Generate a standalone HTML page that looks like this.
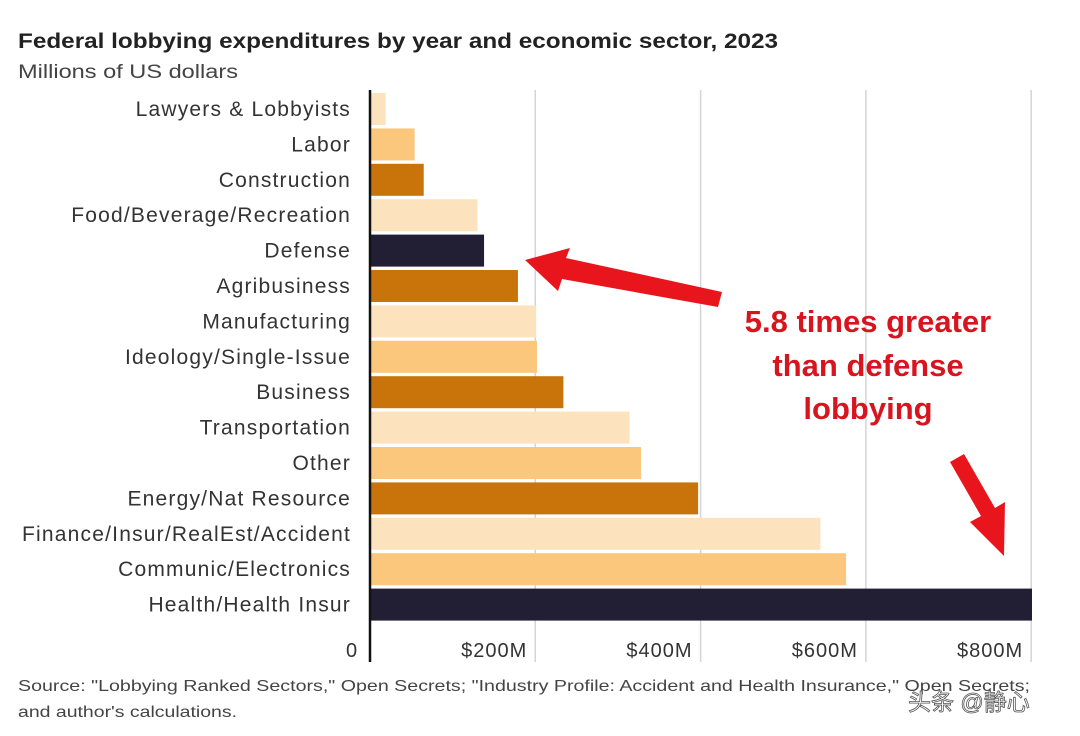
<!DOCTYPE html>
<html><head><meta charset="utf-8"><style>
body{margin:0;background:#fff;width:1080px;height:736px;overflow:hidden;font-family:"Liberation Sans","Noto Sans CJK SC",sans-serif}
</style></head><body>
<svg width="1080" height="736" style="position:absolute;left:0;top:0">
<text x="18" y="48" font-size="21" font-weight="bold" fill="#222" textLength="760" lengthAdjust="spacingAndGlyphs">Federal lobbying expenditures by year and economic sector, 2023</text>
<text x="18" y="78" font-size="19" fill="#444" textLength="220" lengthAdjust="spacingAndGlyphs">Millions of US dollars</text>
<g id="grid"></g>
<g id="bars"></g>
<g id="labels"></g>
<line x1="370" y1="90" x2="370" y2="662" stroke="#111" stroke-width="2.5"/>
<g id="ticks"></g>
<g font-size="31" font-weight="bold" fill="#d8141e" text-anchor="middle">
<text x="868" y="332">5.8 times greater</text>
<text x="868" y="376">than defense</text>
<text x="868" y="419">lobbying</text>
</g>
<polygon points="722,292 566,258 570,248 525,260 558,291 562,279 718,307" fill="#e8161c"/>
<polygon points="950,462 964,454 995,508 1005,502 1004,556 970,522 981,516" fill="#e8161c"/>
<text x="18" y="691" font-size="16" fill="#444" textLength="1012" lengthAdjust="spacingAndGlyphs">Source: "Lobbying Ranked Sectors," Open Secrets; "Industry Profile: Accident and Health Insurance," Open Secrets;</text>
<text x="18" y="717" font-size="16" fill="#444" textLength="219" lengthAdjust="spacingAndGlyphs">and author's calculations.</text>
<text x="908" y="710" font-size="23" fill="#fff" stroke="#555" stroke-width="0.8">头条 @静心</text>
</svg>
<script>
const categories=["Lawyers & Lobbyists","Labor","Construction","Food/Beverage/Recreation","Defense","Agribusiness","Manufacturing","Ideology/Single-Issue","Business","Transportation","Other","Energy/Nat Resource","Finance/Insur/RealEst/Accident","Communic/Electronics","Health/Health Insur"];
const values=[19,54,65,130,138,179,201,202,234,314,328,397,545,576,801];
const colorGroups=["light","mid","dark","light","navy","dark","light","mid","dark","light","mid","dark","light","mid","navy"];
const tickValues=[0,200,400,600,800];
const tickLabels=["0","$200M","$400M","$600M","$800M"];
const palette={light:"#fce2bd",mid:"#fbc77c",dark:"#c8740b",navy:"#221f35"};
const x=v=>370+v*(662/801);
const y=i=>93+i*35.4;
const NS="http://www.w3.org/2000/svg";
const g=document.getElementById('grid'),b=document.getElementById('bars'),l=document.getElementById('labels'),t=document.getElementById('ticks');
tickValues.forEach((v,i)=>{
 if(v>0){const ln=document.createElementNS(NS,'line');
 ln.setAttribute('x1',x(v));ln.setAttribute('x2',x(v));ln.setAttribute('y1',90);ln.setAttribute('y2',662);
 ln.setAttribute('stroke','#d4d4d8');ln.setAttribute('stroke-width','1.5');
 
 
 g.appendChild(ln);}
 const tx=document.createElementNS(NS,'text');
 tx.setAttribute('x',v===0?352:x(v)-8);tx.setAttribute('y',657);tx.setAttribute('font-size','20');tx.setAttribute('fill','#333');
 tx.setAttribute('letter-spacing','1');
 tx.setAttribute('text-anchor',v===0?'middle':'end');
 tx.textContent=tickLabels[i];
 
 
 t.appendChild(tx);
});
categories.forEach((c,i)=>{
 const r=document.createElementNS(NS,'rect');
 r.setAttribute('x',370);r.setAttribute('y',y(i));r.setAttribute('width',x(values[i])-370);r.setAttribute('height',32);
 r.setAttribute('fill',palette[colorGroups[i]]);
 
 
 b.appendChild(r);
 const tx=document.createElementNS(NS,'text');
 tx.setAttribute('x',351);tx.setAttribute('y',y(i)+23);tx.setAttribute('font-size','21');tx.setAttribute('fill','#333');tx.setAttribute('text-anchor','end');
 tx.setAttribute('letter-spacing','1.2');
 tx.textContent=c;
 
 
 l.appendChild(tx);
});
</script>
</body></html>
